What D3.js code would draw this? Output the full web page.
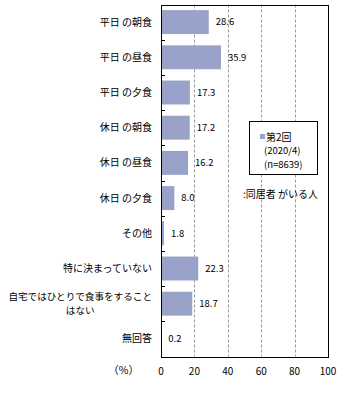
<!DOCTYPE html>
<html><head><meta charset="utf-8">
<script src="https://cdn.jsdelivr.net/npm/d3@7"></script>
<style>body{margin:0;background:#fff}svg{display:block}text{font-family:"Noto Sans CJK JP",sans-serif;fill:#000}</style>
</head><body>
<svg id="c" width="344" height="395"></svg>
<script>
const categories = ["平日 の朝食","平日 の昼食","平日 の夕食","休日 の朝食","休日 の昼食","休日 の夕食","その他","特に決まっていない","自宅ではひとりで食事をすること\nはない","無回答"];
const values = [28.6,35.9,17.3,17.2,16.2,8.0,1.8,22.3,18.7,0.2];
const xTicks = [0,20,40,60,80,100];
const legendLines = ["第2回","(2020/4)","(n=8639)"];
const noteText = ":同居者 がいる人";

const svg = d3.select("#c");
const L=161, R=328, T=4.5, B=356.5;
const x = d3.scaleLinear().domain([0,100]).range([L,R]);
const y = d3.scaleBand().domain(categories).range([T,B]).paddingInner(0.32).paddingOuter(0.16);
const yb = d3.scaleBand().domain(categories).range([T,B]);

// gridlines
svg.append("g").selectAll("line").data(xTicks.filter(d=>d>0&&d<100)).join("line")
  .attr("x1",d=>Math.round(x(d))+0.5).attr("x2",d=>Math.round(x(d))+0.5)
  .attr("y1",T).attr("y2",B).attr("stroke","#999").attr("stroke-dasharray","3,2");

// bars
svg.append("g").selectAll("rect").data(values).join("rect")
  .attr("x",x(0)).attr("y",(d,i)=>y(categories[i]))
  .attr("width",d=>x(d)-x(0)).attr("height",y.bandwidth())
  .attr("fill","#99A2C8");

// frame
svg.append("rect").attr("x",Math.round(L)+0.5).attr("y",Math.round(T)+0.5)
  .attr("width",Math.round(R-L)).attr("height",Math.round(B-T))
  .attr("fill","none").attr("stroke","#000").attr("stroke-width",1);

// category ticks on the left axis
svg.append("g").selectAll("line").data(categories.slice(1)).join("line")
  .attr("x1",L).attr("x2",L+4)
  .attr("y1",d=>Math.round(yb(d))+0.5).attr("y2",d=>Math.round(yb(d))+0.5)
  .attr("stroke","#000");

// value labels
svg.append("g").selectAll("text").data(values).join("text")
  .attr("x",d=>x(d)+7).attr("y",(d,i)=>y(categories[i])+y.bandwidth()/2)
  .attr("dy","0.35em").attr("font-size","9.5px")
  .text(d=>d.toFixed(1));

// category labels
const cg = svg.append("g");
categories.forEach(c=>{
  const lines = c.split("\n");
  const cy = yb(c)+yb.bandwidth()/2;
  if(lines.length===1){
    cg.append("text").attr("x",152).attr("y",cy).attr("dy","0.35em")
      .attr("text-anchor","end").attr("font-size","10px").text(c);
  } else {
    const t1 = cg.append("text").attr("x",152).attr("y",cy-7).attr("dy","0.35em")
      .attr("text-anchor","end").attr("font-size","9.6px").text(lines[0]);
    const w = t1.node().getComputedTextLength();
    cg.append("text").attr("x",152-w/2).attr("y",cy+7).attr("dy","0.35em")
      .attr("text-anchor","middle").attr("font-size","9.6px").text(lines[1]);
  }
});

// x axis labels
svg.append("g").selectAll("text").data(xTicks).join("text")
  .attr("x",d=>x(d)).attr("y",371).attr("dy","0.35em")
  .attr("text-anchor","middle").attr("font-size","10px").text(d=>d);
svg.append("text").attr("x",139).attr("y",370).attr("dy","0.35em")
  .attr("text-anchor","end").attr("font-size","10.5px").text("（%）");

// legend
svg.append("rect").attr("x",249.5).attr("y",121.5).attr("width",68).attr("height",53)
  .attr("fill","#fff").attr("stroke","#000");
svg.append("rect").attr("x",260).attr("y",134).attr("width",5).attr("height",5).attr("fill","#99A2C8");
svg.append("text").attr("x",266).attr("y",137).attr("dy","0.35em").attr("font-size","10px").text(legendLines[0]);
svg.append("text").attr("x",264).attr("y",151).attr("dy","0.35em").attr("font-size","9.5px").text(legendLines[1]);
svg.append("text").attr("x",264).attr("y",164.5).attr("dy","0.35em").attr("font-size","9.5px").text(legendLines[2]);
svg.append("text").attr("x",243).attr("y",194).attr("dy","0.35em").attr("font-size","10px").text(noteText);
</script>
</body></html>
